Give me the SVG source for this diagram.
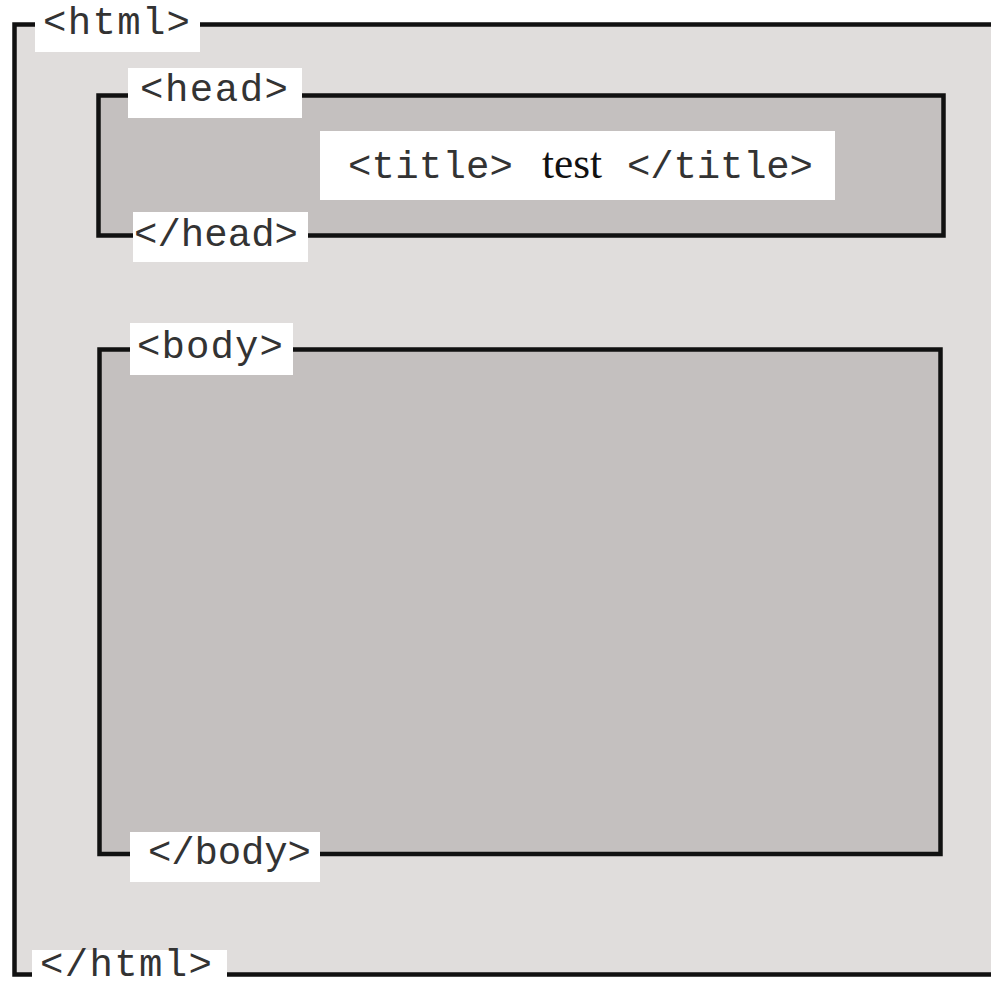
<svg xmlns="http://www.w3.org/2000/svg" width="991" height="987" viewBox="0 0 991 987">
<style>
.frame{stroke:#111;stroke-width:4.5}
.outer{fill:none}
.inner{fill:#c4c0bf}
.lbl{fill:#fff}
.mono{font-family:"Liberation Mono","Courier New",monospace;font-size:39px;fill:#333}
.serif{font-family:"Liberation Serif","Times New Roman",serif;font-size:44px;fill:#111}
</style>
<rect x="0" y="0" width="991" height="987" fill="#fff"/>
<g id="html">
<rect x="14.5" y="24.5" width="977" height="950" fill="#e0dddc"/>
<polyline class="frame outer" points="991,24.5 14.5,24.5 14.5,974.5 991,974.5"/>
<rect class="lbl" x="35" y="0" width="165" height="52"/>
<text class="mono" x="43" y="34" textLength="147" lengthAdjust="spacing">&lt;html&gt;</text>
<rect class="lbl" x="32" y="950" width="195" height="37"/>
<text class="mono" x="40" y="976" font-size="37" textLength="172" lengthAdjust="spacing">&lt;/html&gt;</text>
</g>
<g id="head">
<rect class="frame inner" x="98.5" y="95.5" width="845" height="140"/>
<rect class="lbl" x="128" y="68" width="174" height="50"/>
<text class="mono" x="140" y="101" textLength="148" lengthAdjust="spacing">&lt;head&gt;</text>
<rect class="lbl" x="133" y="212" width="175" height="50"/>
<text class="mono" x="134" y="246" textLength="164" lengthAdjust="spacing">&lt;/head&gt;</text>
</g>
<g id="title">
<rect class="lbl" x="320" y="131" width="515" height="69"/>
<text y="178"><tspan class="mono" x="348" textLength="165" lengthAdjust="spacing">&lt;title&gt;</tspan><tspan class="serif" x="542" textLength="60" lengthAdjust="spacingAndGlyphs">test</tspan><tspan class="mono" x="627" textLength="186" lengthAdjust="spacing">&lt;/title&gt;</tspan></text>
</g>
<g id="body">
<rect class="frame inner" x="99.5" y="349.5" width="841" height="504.5"/>
<rect class="lbl" x="130" y="323" width="163" height="52"/>
<text class="mono" x="137" y="358" textLength="146" lengthAdjust="spacing">&lt;body&gt;</text>
<rect class="lbl" x="130" y="832" width="190" height="50"/>
<text class="mono" x="148" y="864" textLength="163" lengthAdjust="spacing">&lt;/body&gt;</text>
</g>
<g id="connectors"/>
</svg>
